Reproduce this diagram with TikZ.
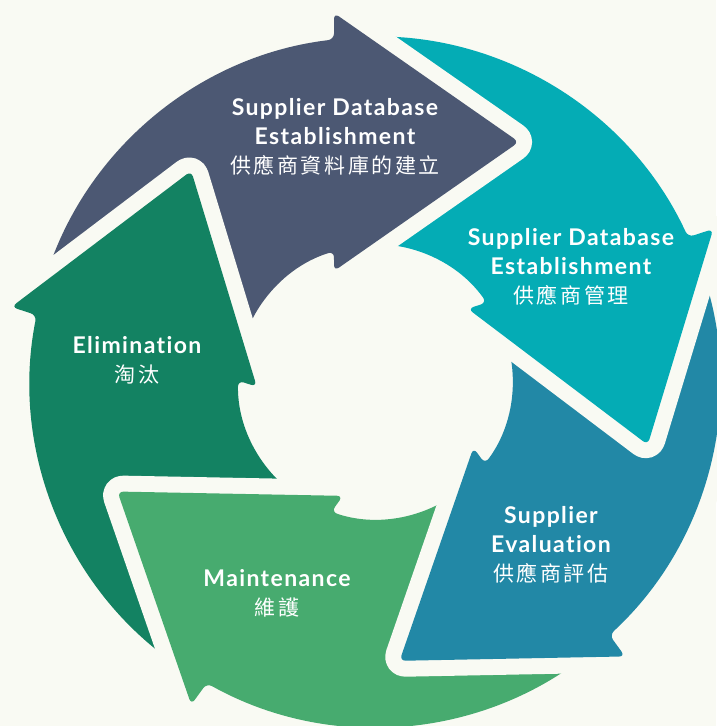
\documentclass[tikz,border=0pt]{standalone}
\usepackage{fontspec}
\newfontfamily\enfont[LetterSpace=6,Ligatures={NoCommon,NoRare}]{Lato}
\newfontfamily\cjkfont[LetterSpace=12]{Noto Sans CJK TC}
\definecolor{bgc}{HTML}{F9FAF3}
\definecolor{navyc}{HTML}{4C5873}
\definecolor{tealc}{HTML}{04ACB5}
\definecolor{bluec}{HTML}{2288A6}
\definecolor{maintc}{HTML}{47AB6F}
\definecolor{elimc}{HTML}{138262}
\newcommand\cyclearrow[2]{%
  \pgfmathsetmacro\tailang{#1+72}%
  \path[arrowshape=#2] (\tailang+6.824:345)
    arc[start angle=\tailang+6.824, end angle=#1+6.824, radius=345]
    -- (#1+6.34:371.3) -- (#1-30.96:279.9) -- (#1+20.27:118.3)
    -- (#1+17.42:137)
    arc[start angle=#1+17.42, end angle=\tailang+17.42, radius=137]
    -- cycle;}
\newcommand\cjkline[1]{{\cjkfont\mdseries\fontsize{21}{29}\selectfont #1}}
\begin{document}
\begin{tikzpicture}[x=1pt,y=1pt,
  arrowshape/.style={fill=#1, rounded corners=6pt,
    preaction={draw=bgc, line width=32pt, line join=round}},
  lbl/.style={text=white, align=center, inner sep=0pt,
    font=\enfont\bfseries\fontsize{23}{29}\selectfont}]
\useasboundingbox (-375,-344) rectangle (341,382);
\fill[bgc] (-375,-344) rectangle (341,382);
\cyclearrow{162}{elimc}
\cyclearrow{234}{maintc}
\cyclearrow{306}{bluec}
\cyclearrow{18}{tealc}
\cyclearrow{90}{navyc}
\begin{scope}
  \clip (-385,-28) rectangle (-85,250);
  \cyclearrow{162}{elimc}
\end{scope}
\node[lbl] (navytext) at (-40,245) {Supplier Database\\Establishment\\\cjkline{供應商資料庫的建立}};
\node[lbl] (tealtext) at (196,115) {Supplier Database\\Establishment\\\cjkline{供應商管理}};
\node[lbl] (bluetext) at (176,-163) {Supplier\\Evaluation\\\cjkline{供應商評估}};
\node[lbl] (mainttext) at (-98,-211.5) {Maintenance\\\cjkline{維護}};
\node[lbl] (elimtext) at (-238,22) {Elimination\\\cjkline{淘汰}};
\end{tikzpicture}
\end{document}
